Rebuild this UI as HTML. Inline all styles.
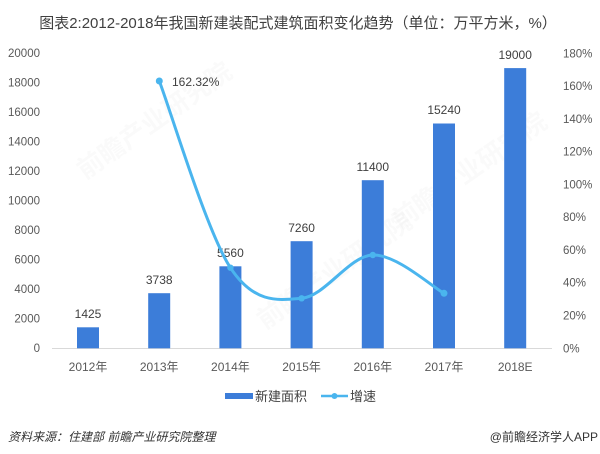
<!DOCTYPE html>
<html><head><meta charset="utf-8"><style>
html,body{margin:0;padding:0;background:#fff;}
svg{display:block;}
text{font-family:"Liberation Sans","Noto Sans CJK SC",sans-serif;}
</style></head><body>
<svg width="600" height="454" viewBox="0 0 600 454" xmlns="http://www.w3.org/2000/svg">
<rect width="600" height="454" fill="#fff"/>
<!-- watermarks -->
<g fill="#000" fill-opacity="0.02" font-size="26" font-weight="bold">
<text transform="translate(85,180) rotate(-35)">前瞻产业研究院</text>
<text transform="translate(265,330) rotate(-35)">前瞻产业研究院</text>
<text transform="translate(400,230) rotate(-35)">前瞻产业研究院</text>
</g>
<!-- title -->
<text x="298" y="28" font-size="15" fill="#404040" text-anchor="middle">图表2:2012-2018年我国新建装配式建筑面积变化趋势（单位：万平方米，%）</text>
<!-- left axis -->
<g font-size="11.5" fill="#595959" text-anchor="end">
<text x="40" y="57">20000</text>
<text x="40" y="86.5">18000</text>
<text x="40" y="116">16000</text>
<text x="40" y="145.5">14000</text>
<text x="40" y="175">12000</text>
<text x="40" y="204.5">10000</text>
<text x="40" y="234">8000</text>
<text x="40" y="263.5">6000</text>
<text x="40" y="293">4000</text>
<text x="40" y="322.5">2000</text>
<text x="40" y="352">0</text>
</g>
<!-- right axis -->
<g font-size="11.5" fill="#595959" text-anchor="start">
<text x="563" y="57.3">180%</text>
<text x="563" y="90.1">160%</text>
<text x="563" y="122.9">140%</text>
<text x="563" y="155.7">120%</text>
<text x="563" y="188.4">100%</text>
<text x="563" y="221.2">80%</text>
<text x="563" y="254">60%</text>
<text x="563" y="286.7">40%</text>
<text x="563" y="319.5">20%</text>
<text x="563" y="352.3">0%</text>
</g>
<!-- baseline -->
<line x1="52" y1="348.5" x2="552" y2="348.5" stroke="#d9d9d9" stroke-width="1"/>
<!-- bars -->
<g fill="#3c7dd9">
<rect x="77" y="327.3" width="22" height="21"/>
<rect x="148.2" y="293.2" width="22" height="55.1"/>
<rect x="219.4" y="266.3" width="22" height="82"/>
<rect x="290.6" y="241.2" width="22" height="107.1"/>
<rect x="361.8" y="180.2" width="22" height="168.1"/>
<rect x="433" y="123.5" width="22" height="224.8"/>
<rect x="504.2" y="68.1" width="22" height="280.2"/>
</g>
<!-- bar labels -->
<g font-size="12" fill="#404040" text-anchor="middle">
<text x="88" y="318">1425</text>
<text x="159.2" y="284">3738</text>
<text x="230.4" y="257">5560</text>
<text x="301.6" y="232">7260</text>
<text x="372.8" y="171">11400</text>
<text x="444" y="114">15240</text>
<text x="515.2" y="59">19000</text>
</g>
<!-- line -->
<path d="M159.3,81 C171.15,112.1 206.7,231.5 230.4,267.7 C254.1,303.9 277.9,300.4 301.6,298.3 C325.3,296.2 349.1,255.8 372.8,255 C396.5,254.2 432.1,286.9 444,293.3" fill="none" stroke="#4ab5ee" stroke-width="3" stroke-linecap="round"/>
<g fill="#4ab5ee">
<circle cx="159.3" cy="81" r="3.5"/>
<circle cx="230.4" cy="267.7" r="3.2"/>
<circle cx="301.6" cy="298.3" r="3.2"/>
<circle cx="372.8" cy="255" r="3.2"/>
<circle cx="444" cy="293.3" r="3.5"/>
</g>
<text x="172" y="86" font-size="12" fill="#404040">162.32%</text>
<!-- x labels -->
<g font-size="12" fill="#595959" text-anchor="middle">
<text x="88" y="371">2012年</text>
<text x="159.2" y="371">2013年</text>
<text x="230.4" y="371">2014年</text>
<text x="301.6" y="371">2015年</text>
<text x="372.8" y="371">2016年</text>
<text x="444" y="371">2017年</text>
<text x="515.2" y="371">2018E</text>
</g>
<!-- legend -->
<rect x="225" y="393" width="28" height="6" fill="#3c7dd9"/>
<text x="255" y="401" font-size="13" fill="#404040">新建面积</text>
<line x1="321" y1="396" x2="348" y2="396" stroke="#4ab5ee" stroke-width="2.5"/>
<circle cx="334.5" cy="396" r="3" fill="#4ab5ee"/>
<text x="350" y="401" font-size="13" fill="#404040">增速</text>
<!-- footer -->
<text x="8" y="441" font-size="12" fill="#333" font-style="italic">资料来源：住建部 前瞻产业研究院整理</text>
<text x="598" y="441" font-size="12" fill="#333" text-anchor="end">@前瞻经济学人APP</text>
</svg>
</body></html>
